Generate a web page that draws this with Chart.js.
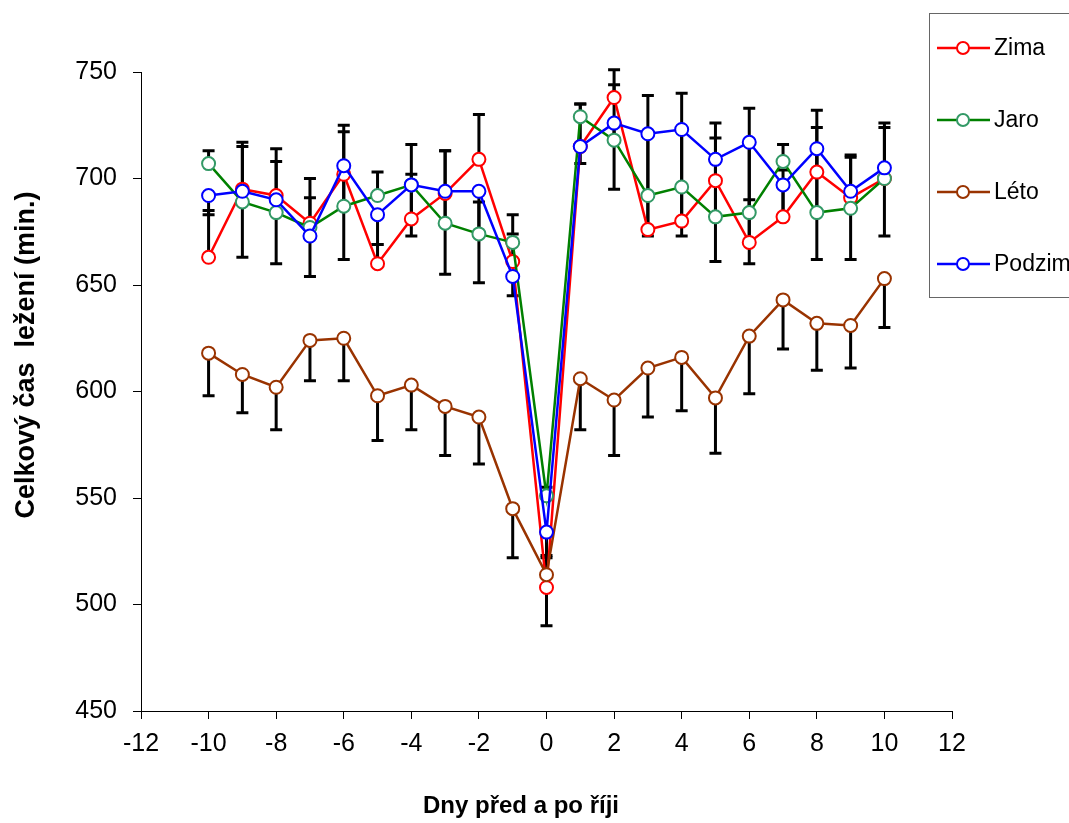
<!DOCTYPE html>
<html>
<head>
<meta charset="utf-8">
<script src="https://cdn.jsdelivr.net/npm/chart.js@4"></script>
<style>
  body { margin: 0; background: #fff; }
  canvas { display: block; }
</style>
</head>
<body>
<canvas id="chart" width="1069" height="823"></canvas>
<script>
const days = [-10, -9, -8, -7, -6, -5, -4, -3, -2, -1, 0, 1, 2, 3, 4, 5, 6, 7, 8, 9, 10];

const zima   = [663, 695, 692, 679, 702, 660, 681, 693, 709, 661, 508, 715, 738, 676, 680, 699, 670, 682, 703, 691, 700];
const jaro   = [707, 689, 684, 677, 687, 692, 697, 679, 674, 670, 551, 729, 718, 692, 696, 682, 684, 708, 684, 686, 700];
const leto   = [618, 608, 602, 624, 625, 598, 603, 593, 588, 545, 514, 606, 596, 611, 616, 597, 626, 643, 632, 631, 653];
const podzim = [692, 694, 690, 673, 706, 683, 697, 694, 694, 654, 534, 715, 726, 721, 723, 709, 717, 697, 714, 694, 705];

// error bar sizes (Zima, Jaro shown upwards; Léto, Podzim downwards)
const zimaErr   = [22, 22, 22, 21, 23, 9, 21, 20, 21, 13, 15, 20, 13, 16, 16, 27, 20, 22, 29, 20, 26];
const jaroErr   = [6, 26, 24, 14, 35, 11, 19, 34, 15, 13, 4, 6, 26, 47, 44, 37, 49, 8, 40, 24, 24];
const letoErr   = [20, 18, 20, 19, 20, 21, 21, 23, 22, 23, 24, 24, 26, 23, 25, 26, 27, 23, 22, 20, 23];
const podzimErr = [9, 31, 30, 19, 44, 14, 24, 39, 43, 9, 12, 8, 31, 48, 50, 48, 57, 15, 52, 32, 32];

const xTicks = [-12, -10, -8, -6, -4, -2, 0, 2, 4, 6, 8, 10, 12];
const yTicks = [450, 500, 550, 600, 650, 700, 750];

const xTitle = "Dny před a po říji";
const yTitle = "Celkový čas  ležení (min.)";
const font = "'Liberation Sans', Arial, sans-serif";

const points = vals => vals.map((v, i) => ({ x: days[i], y: v }));

function series(label, vals, err, dir, line, marker, order) {
  return {
    label,
    data: points(vals),
    err, dir,
    borderColor: line,
    borderWidth: 2.5,
    pointBorderColor: marker,
    pointBackgroundColor: "#fff",
    pointBorderWidth: 2,
    pointRadius: 6.5,
    order
  };
}

const datasets = [
  series("Zima", zima, zimaErr, 1, "#ff0000", "#ff0000", 3),
  series("Jaro", jaro, jaroErr, 1, "#008000", "#339966", 2),
  series("Léto", leto, letoErr, -1, "#993300", "#993300", 1),
  series("Podzim", podzim, podzimErr, -1, "#0000ff", "#0000ff", 0)
];

const errorBars = {
  id: "errorBars",
  beforeDatasetsDraw(chart) {
    const ctx = chart.ctx;
    const xs = chart.scales.x, ys = chart.scales.y;
    ctx.save();
    ctx.strokeStyle = "#000";
    ctx.lineWidth = 3;
    chart.data.datasets.forEach(ds => {
      ds.data.forEach((p, i) => {
        const x = xs.getPixelForValue(p.x);
        const y0 = ys.getPixelForValue(p.y);
        const y1 = ys.getPixelForValue(p.y + ds.dir * ds.err[i]);
        ctx.beginPath();
        ctx.moveTo(x, y0);
        ctx.lineTo(x, y1);
        ctx.moveTo(x - 6, y1);
        ctx.lineTo(x + 6, y1);
        ctx.stroke();
      });
    });
    ctx.restore();
  }
};

const extras = {
  id: "extras",
  afterDraw(chart) {
    const ctx = chart.ctx;
    ctx.save();
    ctx.fillStyle = "#000";
    ctx.textAlign = "center";
    ctx.textBaseline = "middle";
    ctx.font = "bold 24px " + font;
    ctx.fillText(xTitle, 521, 806);
    ctx.font = "bold 27px " + font;
    ctx.translate(27, 355);
    ctx.rotate(-Math.PI / 2);
    ctx.fillText(yTitle, 0, 0);
    ctx.restore();

    // legend box
    ctx.save();
    ctx.strokeStyle = "#666";
    ctx.lineWidth = 1;
    ctx.strokeRect(929.5, 13.5, 200, 284);
    ctx.font = "23px " + font;
    ctx.textBaseline = "middle";
    ctx.textAlign = "left";
    chart.data.datasets.forEach((ds, i) => {
      const y = 48 + i * 72;
      ctx.strokeStyle = ds.borderColor;
      ctx.lineWidth = 2.5;
      ctx.beginPath();
      ctx.moveTo(937, y);
      ctx.lineTo(990, y);
      ctx.stroke();
      ctx.beginPath();
      ctx.arc(963, y, 6, 0, Math.PI * 2);
      ctx.fillStyle = "#fff";
      ctx.fill();
      ctx.strokeStyle = ds.pointBorderColor;
      ctx.lineWidth = 2;
      ctx.stroke();
      ctx.fillStyle = "#000";
      ctx.fillText(ds.label, 994, y + 1);
    });
    ctx.restore();
  }
};

new Chart(document.getElementById("chart"), {
  type: "line",
  data: { datasets },
  options: {
    responsive: false,
    animation: false,
    layout: { padding: { top: 72, right: 117, left: 0, bottom: 0 } },
    plugins: { legend: { display: false }, tooltip: { enabled: false } },
    scales: {
      x: {
        type: "linear",
        min: -12, max: 12,
        afterBuildTicks: s => { s.ticks = xTicks.map(v => ({ value: v })); },
        afterFit: s => { s.height = 112; },
        grid: { drawOnChartArea: false, drawTicks: true, tickLength: 8, color: "#000" },
        border: { color: "#000", width: 1 },
        ticks: { color: "#000", font: { family: font, size: 25 }, padding: 10, maxRotation: 0 }
      },
      y: {
        min: 450, max: 750,
        afterBuildTicks: s => { s.ticks = yTicks.map(v => ({ value: v })); },
        afterFit: s => { s.width = 141; },
        grid: { drawOnChartArea: false, drawTicks: true, tickLength: 8, color: "#000" },
        border: { color: "#000", width: 1 },
        ticks: { color: "#000", font: { family: font, size: 25 }, padding: 16 }
      }
    }
  },
  plugins: [errorBars, extras]
});
</script>
</body>
</html>
